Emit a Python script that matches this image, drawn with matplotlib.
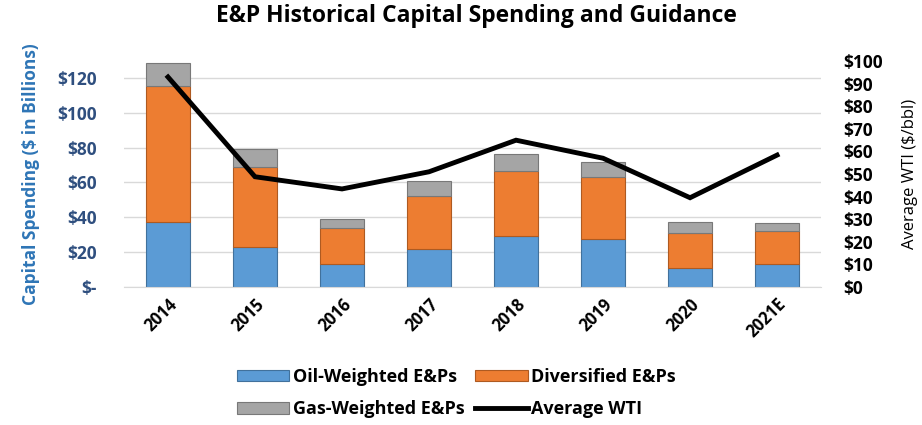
import matplotlib.pyplot as plt
import numpy as np

years = ["2014", "2015", "2016", "2017", "2018", "2019", "2020", "2021E"]
oil = [37.3, 23.1, 13.2, 21.6, 29.3, 27.4, 11.1, 13.2]
diversified = [78.1, 45.6, 20.5, 30.8, 37.3, 35.9, 20.1, 18.9]
gas = [13.4, 10.5, 5.2, 8.6, 9.6, 8.5, 5.9, 4.5]
wti = [93.0, 48.8, 43.4, 51.0, 65.0, 57.0, 39.5, 58.4]

left_ticks = [0, 20, 40, 60, 80, 100, 120]
left_labels = ["$-", "$20", "$40", "$60", "$80", "$100", "$120"]
right_ticks = list(range(0, 101, 10))
right_labels = ["$" + str(t) for t in right_ticks]

plt.rcParams['font.family'] = ['Open Sans', 'DejaVu Sans']

fig = plt.figure(figsize=(9.22, 4.25), dpi=100)
ax1 = fig.add_axes([0.135, 0.325, 0.755, 0.531])
ax2 = ax1.twinx()

x = np.arange(len(years))
w = 0.5
b1 = ax1.bar(x, oil, w, color='#5B9BD5', edgecolor='#41719C', linewidth=0.8, label='Oil-Weighted E&Ps', zorder=2)
b2 = ax1.bar(x, diversified, w, bottom=oil, color='#ED7D31', edgecolor='#AE5A21', linewidth=0.8,
             label='Diversified E&Ps', zorder=2)
bottom2 = np.array(oil) + np.array(diversified)
b3 = ax1.bar(x, gas, w, bottom=bottom2, color='#A5A5A5', edgecolor='#787878', linewidth=0.8,
             label='Gas-Weighted E&Ps', zorder=2)
l1, = ax2.plot(x, wti, color='black', linewidth=3.5, label='Average WTI', solid_joinstyle='miter')

ax1.set_xlim(-0.5, len(years) - 0.5)
ax1.set_ylim(0, 129.7)
ax2.set_ylim(0, 100)

ax1.set_yticks(left_ticks)
ax1.set_yticklabels(left_labels, fontsize=12.5, fontweight='bold', color='#2F4F7F')
ax2.set_yticks(right_ticks)
ax2.set_yticklabels(right_labels, fontsize=12.5, fontweight='bold', color='black')
ax1.set_xticks(x)
ax1.set_xticklabels(years, rotation=45, ha='right', rotation_mode='anchor', fontsize=12, fontweight='bold')

ax1.grid(axis='y', color='#D9D9D9', linewidth=1, zorder=0)
ax1.set_axisbelow(True)
for ax in (ax1, ax2):
    for s in ax.spines.values():
        s.set_visible(False)
    ax.tick_params(length=0)
ax1.spines['bottom'].set_visible(True)
ax1.spines['bottom'].set_color('#D9D9D9')
ax1.tick_params(axis='y', pad=20)
ax2.tick_params(axis='y', pad=16)
ax1.tick_params(axis='x', pad=6)

ax1.set_ylabel('Capital Spending ($ in Billions)', fontsize=12.5, fontweight='bold', color='#2E75B6', labelpad=12)
ax2.set_ylabel('Average WTI ($/bbl)', fontsize=12, color='black', labelpad=14)

fig.suptitle('E&P Historical Capital Spending and Guidance', x=0.517, y=0.99, fontsize=16.5, fontweight='bold')

fig.legend([b1, b3, b2, l1], ['Oil-Weighted E&Ps', 'Gas-Weighted E&Ps', 'Diversified E&Ps', 'Average WTI'],
           loc='center', bbox_to_anchor=(0.495, 0.075), ncol=2, frameon=False,
           prop={'weight': 'bold', 'size': 13}, handlelength=2.9, handleheight=0.6, columnspacing=0.6,
           handletextpad=0.2, labelspacing=0.8)

fig.savefig('out.png', dpi=100)
